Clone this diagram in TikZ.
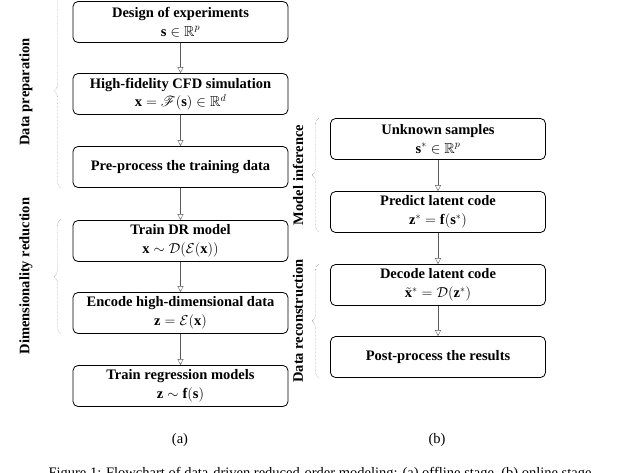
\documentclass[tikz,border=0pt]{standalone}
\usepackage{amsmath,amssymb,mathrsfs}
\usepackage{fontspec}
\setmainfont{Liberation Serif}
\usetikzlibrary{arrows.meta,decorations.pathreplacing}
\begin{document}
\begin{tikzpicture}[x=1pt,y=-1pt,
  box/.style={draw,thick,rounded corners=5pt,minimum width=215pt,minimum height=41pt,inner sep=1pt,align=center,font=\fontsize{14.5}{18.5}\selectfont\bfseries},
  arr/.style={draw=black!65,-{Triangle[open,length=6pt,width=6pt]}},
  brc/.style={draw=black!60,densely dotted,decorate,decoration={brace,amplitude=7pt}},
  lab/.style={rotate=90,font=\fontsize{14.5}{16}\selectfont\bfseries}]
\useasboundingbox (0,0) rectangle (640,472);
\clip (0,0) rectangle (640,472);
\node[box] (a1) at (180.5,22) {Design of experiments\\ $\mathbf{s}\in\mathbb{R}^p$};
\node[box] (a2) at (180.5,94) {High-fidelity CFD simulation\\ $\mathbf{x}=\mathscr{F}(\mathbf{s})\in\mathbb{R}^d$};
\node[box] (a3) at (180.5,167) {Pre-process the training data};
\node[box] (a4) at (180.5,241) {Train DR model\\ $\mathbf{x}\sim\mathcal{D}(\mathcal{E}(\mathbf{x}))$};
\node[box] (a5) at (180.5,313) {Encode high-dimensional data\\ $\mathbf{z}=\mathcal{E}(\mathbf{x})$};
\node[box] (a6) at (180.5,386) {Train regression models\\ $\mathbf{z}\sim\mathbf{f}(\mathbf{s})$};
\node[box] (b1) at (438,139) {Unknown samples\\ $\mathbf{s}^*\in\mathbb{R}^p$};
\node[box] (b2) at (438,212) {Predict latent code\\ $\mathbf{z}^*=\mathbf{f}(\mathbf{s}^*)$};
\node[box] (b3) at (438,285) {Decode latent code\\ $\tilde{\mathbf{x}}^*=\mathcal{D}(\mathbf{z}^*)$};
\node[box] (b4) at (438,357) {Post-process the results};
\foreach \p/\q in {a1/a2,a2/a3,a3/a4,a4/a5,a5/a6,b1/b2,b2/b3,b3/b4} \draw[arr] (\p) -- (\q);
\coordinate (p1) at (61,188); \coordinate (p2) at (61,-6);
\draw[brc] (p1) -- (p2);
\node[lab] (l1) at (26,92) {Data preparation};
\coordinate (p3) at (61,334); \coordinate (p4) at (61,219);
\draw[brc] (p3) -- (p4);
\node[lab] (l2) at (26,276) {Dimensionality reduction};
\coordinate (p5) at (319,232); \coordinate (p6) at (319,118);
\draw[brc] (p5) -- (p6);
\node[lab] (l3) at (298,175) {Model inference};
\coordinate (p7) at (319,378); \coordinate (p8) at (319,264);
\draw[brc] (p7) -- (p8);
\node[lab] (l4) at (298,321) {Data reconstruction};
\node (ca) at (180,440) {\fontsize{14.5}{16}\selectfont(a)};
\node (cb) at (437,440) {\fontsize{14.5}{16}\selectfont(b)};
\node (cap) at (320,474) {\fontsize{14.5}{16}\selectfont Figure 1: Flowchart of data-driven reduced-order modeling: (a) offline stage, (b) online stage};
\end{tikzpicture}
\end{document}
